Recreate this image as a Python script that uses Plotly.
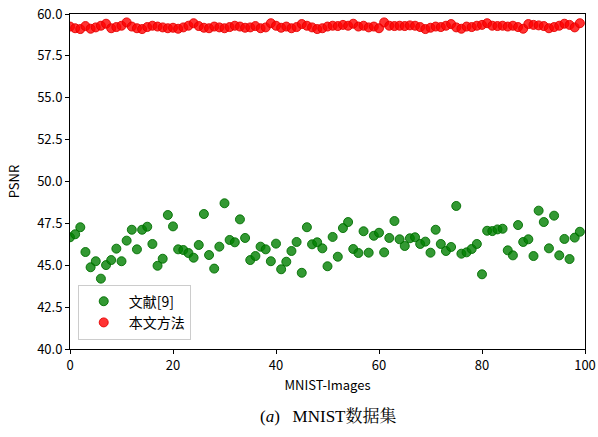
import plotly.graph_objects as go

image_index = list(range(100))

ref9_psnr = [
    46.67, 46.85, 47.27, 45.79, 44.88, 45.24, 44.20, 45.01, 45.31, 45.99,
    45.24, 46.47, 47.12, 45.95, 47.12, 47.30, 46.27, 44.97, 45.39, 48.00,
    47.32, 45.95, 45.91, 45.73, 45.45, 46.21, 48.06, 45.61, 44.80, 46.11,
    48.70, 46.51, 46.37, 47.74, 46.63, 45.31, 45.55, 46.11, 45.95, 45.24,
    46.29, 44.76, 45.21, 45.85, 46.39, 44.55, 47.27, 46.25, 46.37, 46.01,
    44.94, 46.69, 45.51, 47.22, 47.58, 45.97, 45.73, 47.03, 45.75, 46.76,
    46.94, 45.77, 46.63, 47.64, 46.55, 46.15, 46.61, 46.67, 46.27, 46.41,
    45.75, 47.12, 46.27, 45.85, 46.09, 48.54, 45.69, 45.77, 45.97, 46.27,
    44.46, 47.06, 47.04, 47.14, 47.18, 45.89, 45.59, 47.40, 46.39, 46.55,
    45.55, 48.26, 47.58, 46.01, 47.96, 45.59, 46.57, 45.37, 46.65, 47.00,
]

ours_psnr = [
    59.25, 59.15, 59.10, 59.28, 59.12, 59.20, 59.30, 59.42, 59.15, 59.22,
    59.30, 59.50, 59.25, 59.15, 59.10, 59.22, 59.30, 59.25, 59.20, 59.15,
    59.18, 59.12, 59.20, 59.30, 59.45, 59.28, 59.18, 59.15, 59.25, 59.20,
    59.15, 59.22, 59.30, 59.25, 59.18, 59.20, 59.28, 59.15, 59.20, 59.45,
    59.30, 59.18, 59.25, 59.15, 59.22, 59.40, 59.30, 59.20, 59.10, 59.15,
    59.25, 59.30, 59.28, 59.35, 59.30, 59.42, 59.25, 59.30, 59.20, 59.25,
    59.15, 59.50, 59.30, 59.28, 59.30, 59.28, 59.32, 59.30, 59.22, 59.10,
    59.18, 59.25, 59.22, 59.30, 59.40, 59.20, 59.12, 59.25, 59.22, 59.30,
    59.35, 59.45, 59.30, 59.28, 59.30, 59.25, 59.30, 59.22, 59.12, 59.40,
    59.35, 59.32, 59.28, 59.15, 59.22, 59.30, 59.42, 59.35, 59.20, 59.45,
]

x_ticks = [0, 20, 40, 60, 80, 100]
y_ticks = [40.0, 42.5, 45.0, 47.5, 50.0, 52.5, 55.0, 57.5, 60.0]

font_cjk = "Noto Sans CJK SC, DejaVu Sans, sans-serif"

fig = go.Figure()
fig.add_trace(go.Scatter(
    x=image_index, y=ref9_psnr, mode="markers", name="文献[9]",
    marker=dict(size=9, color="rgba(0,128,0,0.8)",
                line=dict(color="rgba(0,110,0,0.9)", width=1)),
))
fig.add_trace(go.Scatter(
    x=image_index, y=ours_psnr, mode="markers", name="本文方法",
    marker=dict(size=9, color="rgba(255,0,0,0.8)",
                line=dict(color="rgba(230,0,0,0.9)", width=1)),
))

axis_common = dict(
    showline=True, linecolor="black", linewidth=1, mirror=True,
    ticks="outside", ticklen=4, tickcolor="black", showgrid=False,
    zeroline=False, automargin=False,
    tickfont=dict(family=font_cjk, size=13, color="black"),
)

fig.update_layout(
    width=598, height=437,
    margin=dict(l=70, r=13, t=14, b=88),
    paper_bgcolor="white", plot_bgcolor="white",
    showlegend=True,
    legend=dict(x=0.015, y=0.028, xanchor="left", yanchor="bottom",
                bordercolor="#cccccc", borderwidth=1, bgcolor="rgba(255,255,255,0.8)",
                font=dict(family=font_cjk, size=14, color="black"),
                itemsizing="trace", itemwidth=40, tracegroupgap=2),
    xaxis=dict(range=[0, 100], tickvals=x_ticks,
               title=dict(text="MNIST-Images", standoff=8,
                          font=dict(family=font_cjk, size=13, color="black")),
               **axis_common),
    yaxis=dict(range=[40, 60], tickvals=y_ticks, tickformat=".1f",
               title=dict(text="PSNR", standoff=14,
                          font=dict(family=font_cjk, size=13, color="black")),
               **axis_common),
)

fig.add_annotation(
    text="(<i>a</i>)   MNIST数据集", xref="paper", yref="paper",
    x=0.5, y=-0.2, xanchor="center", yanchor="middle", showarrow=False,
    font=dict(family="Liberation Serif, Noto Serif CJK SC, Noto Sans CJK SC, serif",
              size=17, color="black"),
)

fig.write_html("out.html")
